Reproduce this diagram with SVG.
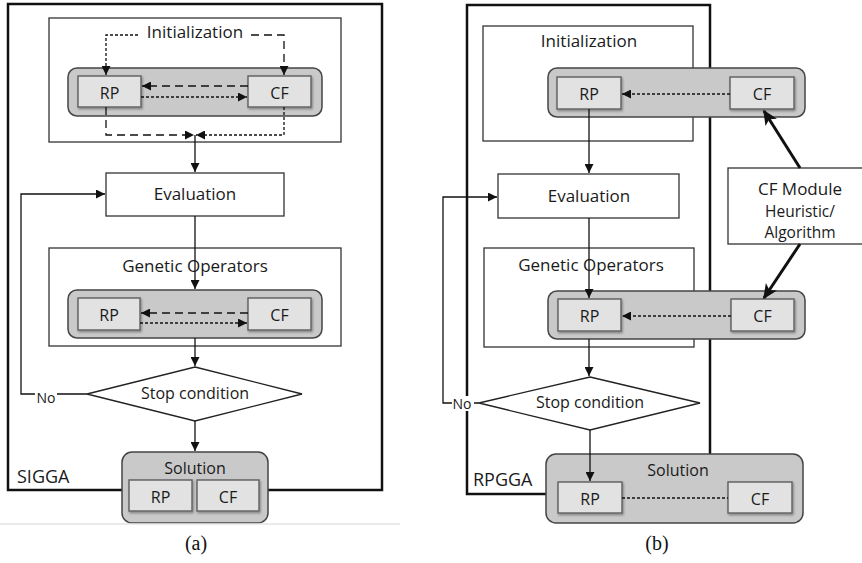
<svg xmlns="http://www.w3.org/2000/svg" width="862" height="563" viewBox="0 0 862 563">
<style>
text{font-family:"Open Sans","Liberation Sans",sans-serif;fill:#1a1a1a;}
.lbl{font-size:17px;text-anchor:middle;}
.nd{font-size:16px;text-anchor:middle;}
.sm{font-size:15.5px;text-anchor:middle;}
.tag{font-size:18px;}
.no{font-size:14px;text-anchor:middle;}
.outer{fill:none;stroke:#111;stroke-width:2.5;}
.box{fill:#fff;stroke:#333;stroke-width:1.3;}
.grp{fill:#c9c9c9;stroke:#444;stroke-width:1.5;}
.in{fill:#e2e2e2;stroke:#666;stroke-width:1.5;filter:url(#sh);}
.dia{fill:#fff;stroke:#222;stroke-width:1.3;}
.ln{fill:none;stroke:#111;stroke-width:1.3;}
.dot{fill:none;stroke:#111;stroke-width:1.3;stroke-dasharray:3 2;}
.dash{fill:none;stroke:#111;stroke-width:1.3;stroke-dasharray:8 5;}
.thick{fill:none;stroke:#111;stroke-width:3;}
.cap{font-family:"Liberation Serif","DejaVu Serif",serif;font-size:20px;text-anchor:middle;fill:#111;}
</style>
<defs>
<marker id="ah" markerUnits="userSpaceOnUse" markerWidth="9" markerHeight="9" viewBox="0 0 10 10" refX="10" refY="5" orient="auto"><path d="M0,0 L10,5 L0,10 z" fill="#111"/></marker>
<marker id="ahb" markerUnits="userSpaceOnUse" markerWidth="15" markerHeight="15" viewBox="0 0 10 10" refX="9" refY="5" orient="auto"><path d="M0,0.5 L10,5 L0,9.5 L2.5,5 z" fill="#111"/></marker>
<filter id="sh" x="-10%" y="-10%" width="130%" height="140%"><feDropShadow dx="1" dy="1.5" stdDeviation="1" flood-color="#000" flood-opacity="0.35"/></filter>
</defs>

<!-- ===== Panel (a) ===== -->
<g id="a-sigga">
<rect class="outer" x="8" y="4" width="374" height="486"/>
<text class="tag" x="17" y="483">SIGGA</text>
</g>
<g id="a-init">
<rect class="box" x="49" y="18" width="292" height="124"/>
<text class="lbl" x="195" y="38">Initialization</text>
</g>
<g id="a-init-group">
<rect class="grp" x="68" y="68" width="254" height="48" rx="9"/>
</g>
<g id="a-init-rp"><rect class="in" x="78" y="76" width="63" height="31"/><text class="nd" x="109.5" y="99">RP</text></g>
<g id="a-init-cf"><rect class="in" x="248" y="76" width="63" height="31"/><text class="nd" x="279.5" y="99">CF</text></g>
<g id="a-eval">
<rect class="box" x="106" y="173" width="178" height="43"/>
<text class="lbl" x="195" y="200">Evaluation</text>
</g>
<g id="a-genop">
<rect class="box" x="49" y="248" width="292" height="98"/>
<text class="lbl" x="195" y="272">Genetic Operators</text>
</g>
<g id="a-genop-group"><rect class="grp" x="68" y="290" width="254" height="48" rx="9"/></g>
<g id="a-genop-rp"><rect class="in" x="78" y="298" width="62" height="32"/><text class="nd" x="109" y="321">RP</text></g>
<g id="a-genop-cf"><rect class="in" x="248" y="298" width="63" height="32"/><text class="nd" x="279.5" y="321">CF</text></g>
<g id="a-stop">
<polygon class="dia" points="195,367 302,394 195,421 87,394"/>
<text class="nd" x="195" y="399">Stop condition</text>
</g>
<g id="a-solution">
<rect class="grp" x="122" y="452" width="146" height="71" rx="10"/>
<text class="nd" x="195" y="474">Solution</text>
<rect class="in" x="129" y="480" width="63" height="31"/><text class="nd" x="160.5" y="503">RP</text>
<rect class="in" x="197" y="480" width="62" height="31"/><text class="nd" x="228" y="503">CF</text>
</g>

<g id="a-connectors">
<path class="dot" d="M138,35 H106 V75" marker-end="url(#ah)"/>
<path class="dash" d="M251,35 H284 V75" marker-end="url(#ah)"/>
<path class="dash" d="M248,86 H142" marker-end="url(#ah)"/>
<path class="dot" d="M141,97 H247" marker-end="url(#ah)"/>
<path class="dash" d="M106,107 V135 H194" marker-end="url(#ah)"/>
<path class="dot" d="M284,107 V135 H196" marker-end="url(#ah)"/>
<path class="ln" d="M195,135 V172" marker-end="url(#ah)"/>
<path class="ln" d="M195,216 V289" marker-end="url(#ah)"/>
<path class="dash" d="M248,313 H141" marker-end="url(#ah)"/>
<path class="dot" d="M140,323 H247" marker-end="url(#ah)"/>
<path class="ln" d="M195,338 V366" marker-end="url(#ah)"/>
<path class="ln" d="M195,421 V451" marker-end="url(#ah)"/>
<path class="ln" d="M87,394 H21 V194 H105" marker-end="url(#ah)"/>
<rect x="35" y="389" width="22" height="16" fill="#fff"/>
<text class="no" x="46" y="403">No</text>
</g>
<g id="a-caption">
<line x1="0" y1="524" x2="400" y2="524" stroke="#e4e4e4" stroke-width="1.5"/>
<text class="cap" x="196" y="550">(a)</text>
</g>

<!-- ===== Panel (b) ===== -->
<g id="b-rpgga">
<rect class="outer" x="467" y="5" width="243" height="489"/>
<text class="tag" x="473" y="486">RPGGA</text>
</g>
<g id="b-init">
<rect class="box" x="483" y="26" width="210" height="115"/>
<text class="lbl" x="589" y="47">Initialization</text>
</g>
<g id="b-init-group"><rect class="grp" x="548" y="68" width="257" height="49" rx="9"/></g>
<g id="b-init-rp"><rect class="in" x="557" y="77" width="64" height="32"/><text class="nd" x="589" y="100">RP</text></g>
<g id="b-init-cf"><rect class="in" x="730" y="77" width="64" height="32"/><text class="nd" x="762" y="100">CF</text></g>
<g id="b-eval">
<rect class="box" x="498" y="174" width="181" height="44"/>
<text class="lbl" x="589" y="202">Evaluation</text>
</g>
<g id="b-genop">
<rect class="box" x="484" y="248" width="210" height="99"/>
<text class="lbl" x="591" y="271">Genetic Operators</text>
</g>
<g id="b-genop-group"><rect class="grp" x="548" y="291" width="257" height="48" rx="9"/></g>
<g id="b-genop-rp"><rect class="in" x="558" y="299" width="63" height="32"/><text class="nd" x="589.5" y="322">RP</text></g>
<g id="b-genop-cf"><rect class="in" x="731" y="299" width="63" height="32"/><text class="nd" x="762.5" y="322">CF</text></g>
<g id="b-cfmodule">
<rect class="box" x="728" y="168" width="140" height="76"/>
<text x="800" y="195" style="font-size:17px;text-anchor:middle">CF Module</text>
<text class="sm" x="800" y="217">Heuristic/</text>
<text class="sm" x="800" y="238">Algorithm</text>
</g>
<g id="b-stop">
<polygon class="dia" points="590,377 700,403 590,430 479,403"/>
<text class="nd" x="590" y="408">Stop condition</text>
</g>
<g id="b-solution">
<rect class="grp" x="546" y="454" width="257" height="69" rx="10"/>
<text class="nd" x="678" y="476">Solution</text>
<rect class="in" x="558" y="482" width="64" height="31"/><text class="nd" x="590" y="505">RP</text>
<rect class="in" x="728" y="482" width="64" height="31"/><text class="nd" x="760" y="505">CF</text>
</g>

<g id="b-connectors">
<path class="dot" d="M730,94 H622" marker-end="url(#ah)"/>
<path class="ln" d="M589,109 V173" marker-end="url(#ah)"/>
<path class="ln" d="M589,218 V298" marker-end="url(#ah)"/>
<path class="dot" d="M731,316 H622" marker-end="url(#ah)"/>
<path class="ln" d="M589,339 V376" marker-end="url(#ah)"/>
<path class="ln" d="M590,430 V481" marker-end="url(#ah)"/>
<path class="dot" d="M622,498 H728"/>
<path class="ln" d="M479,403 H443 V197 H497" marker-end="url(#ah)"/>
<rect x="452" y="396" width="22" height="15" fill="#fff"/>
<text class="no" x="462" y="409">No</text>
<path class="thick" d="M800,168 L764,111" marker-end="url(#ahb)"/>
<path class="thick" d="M800,244 L764,298" marker-end="url(#ahb)"/>
</g>
<g id="b-caption">
<text class="cap" x="657" y="550">(b)</text>
</g>
</svg>
